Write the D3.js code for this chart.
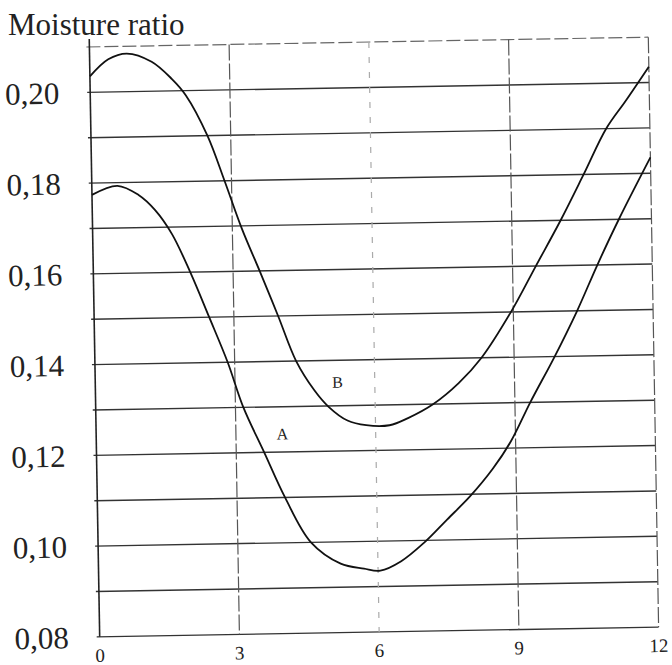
<!DOCTYPE html>
<meta charset="utf-8">
<style>
body { margin: 0; background: #fff; }
text { font-family: "Liberation Serif", "Times New Roman", serif; fill: #222; }
</style>
<svg width="672" height="665" id="chart"></svg>
<script src="https://d3js.org/d3.v7.min.js"></script>
<script>
// values
var hoursA = [0, 0.55, 1.0, 1.35, 1.7, 2.08, 2.47, 2.85, 3.17, 3.6, 4.03, 4.57, 5.2, 5.7, 6.05, 6.5, 7.0, 7.5, 8.0, 8.5, 8.9, 9.33, 9.87, 10.37, 10.82, 11.3, 12];
var ratioA = [0.1774, 0.1793, 0.1772, 0.1738, 0.1685, 0.160, 0.150, 0.140, 0.130, 0.120, 0.110, 0.100, 0.0952, 0.0940, 0.0935, 0.0955, 0.0995, 0.1045, 0.1095, 0.1155, 0.1215, 0.130, 0.140, 0.150, 0.160, 0.170, 0.1835];

var hoursB = [0, 0.4, 0.8, 1.33, 1.76, 2.05, 2.5, 2.85, 3.2, 3.57, 3.95, 4.32, 4.7, 5.0, 5.4, 5.8, 6.3, 6.7, 7.25, 7.8, 8.3, 8.95, 9.5, 10.05, 10.56, 11.06, 11.5, 12];
var ratioB = [0.2035, 0.2072, 0.2084, 0.2065, 0.2026, 0.199, 0.190, 0.180, 0.1695, 0.160, 0.150, 0.140, 0.1335, 0.1298, 0.1267, 0.1256, 0.1255, 0.127, 0.130, 0.1345, 0.140, 0.150, 0.160, 0.170, 0.180, 0.190, 0.1962, 0.2035];

var xTicks = [0, 3, 6, 9, 12];
var yTicks = [0.08, 0.10, 0.12, 0.14, 0.16, 0.18, 0.20];
var yGrid = [0.08, 0.09, 0.10, 0.11, 0.12, 0.13, 0.14, 0.15, 0.16, 0.17, 0.18, 0.19, 0.20, 0.21];

var svg = d3.select("#chart"),
    width = 559,
    height = 590;

// the scan is tilted by about one degree
var g = svg.append("g")
    .attr("transform", "translate(374,337) rotate(-1) translate(" + (-width / 2) + "," + (-height / 2) + ")");

var x = d3.scaleLinear().domain([0, 12]).range([0, width]);
var y = d3.scaleLinear().domain([0.08, 0.21]).range([height, 0]);

// horizontal grid
g.append("g").selectAll("line").data(yGrid)
  .enter().append("line")
    .attr("x1", -3).attr("x2", width)
    .attr("y1", function(d) { return y(d); })
    .attr("y2", function(d) { return y(d); })
    .attr("stroke", function(d) { return d > 0.205 ? "#666" : "#333"; })
    .attr("stroke-width", function(d) { return d > 0.205 ? 1.2 : 1.4; })
    .attr("stroke-dasharray", function(d) { return d > 0.205 ? "14,4" : null; });

// vertical grid
g.append("g").selectAll("line").data(xTicks.slice(1))
  .enter().append("line")
    .attr("x1", function(d) { return x(d); })
    .attr("x2", function(d) { return x(d); })
    .attr("y1", 0).attr("y2", height)
    .attr("stroke", function(d) { return d === 6 ? "#aaa" : "#555"; })
    .attr("stroke-width", 1.2)
    .attr("stroke-dasharray", function(d) { return d === 6 ? "6,9" : "16,3"; });

// left axis line
g.append("line")
    .attr("x1", 0).attr("x2", 0)
    .attr("y1", -8).attr("y2", height)
    .attr("stroke", "#222").attr("stroke-width", 1.6);

var line = d3.line()
    .x(function(d) { return x(d[0]); })
    .y(function(d) { return y(d[1]); })
    .curve(d3.curveCatmullRom.alpha(0.5));

[[hoursA, ratioA], [hoursB, ratioB]].forEach(function(s) {
  g.append("path")
      .datum(d3.zip(s[0], s[1]))
      .attr("fill", "none")
      .attr("stroke", "#111")
      .attr("stroke-width", 1.8)
      .attr("d", line);
});

// curve labels
g.append("text").attr("x", x(5.2)).attr("y", y(0.1352)).attr("dy", "0.35em")
    .attr("text-anchor", "middle").attr("font-size", 16).text("B");
g.append("text").attr("x", x(4.0)).attr("y", y(0.124)).attr("dy", "0.35em")
    .attr("text-anchor", "middle").attr("font-size", 16).text("A");

// tick labels
g.append("g").selectAll("text").data(yTicks)
  .enter().append("text")
    .attr("x", -31)
    .attr("y", function(d) { return y(d); })
    .attr("dy", "0.35em")
    .attr("text-anchor", "end")
    .attr("font-size", 31)
    .text(function(d) { return d3.format(".2f")(d).replace(".", ","); });

g.append("g").selectAll("text").data(xTicks)
  .enter().append("text")
    .attr("x", function(d) { return x(d); })
    .attr("y", height + 25)
    .attr("text-anchor", "middle")
    .attr("font-size", 19)
    .text(function(d) { return d; });

svg.append("text")
    .attr("x", 8).attr("y", 35)
    .attr("font-size", 31)
    .text("Moisture ratio");
</script>
